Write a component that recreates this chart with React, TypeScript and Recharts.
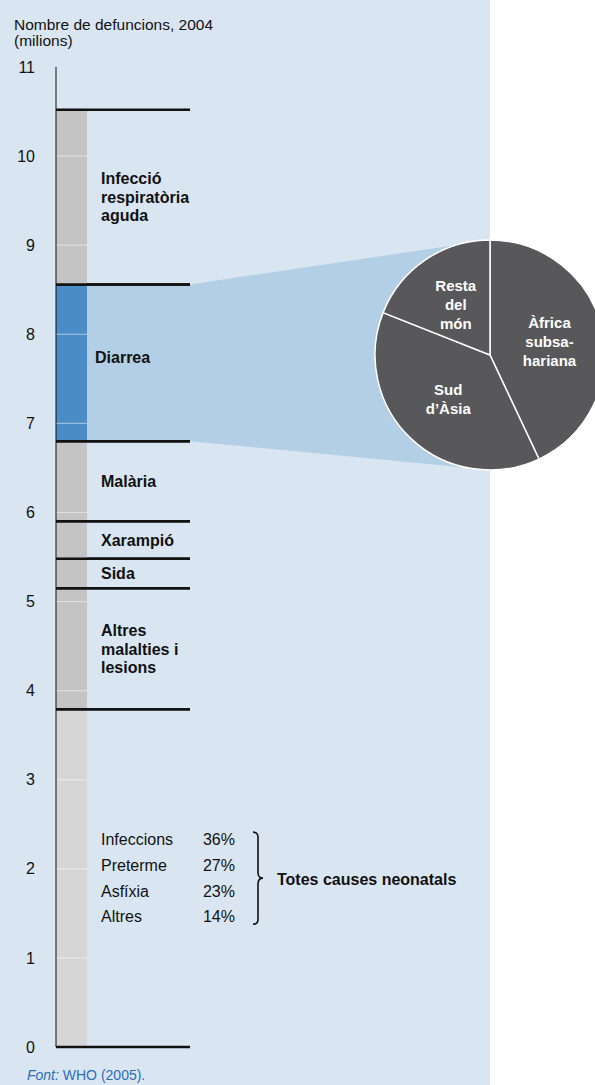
import React from 'react';
import { ComposedChart, Bar, XAxis, YAxis, ReferenceLine, PieChart, Pie, Cell } from 'recharts';

// Child deaths by cause, 2004 (millions), stacked from the bottom
const causes = [
  'Totes causes neonatals',
  'Altres malalties i lesions',
  'Sida',
  'Xarampió',
  'Malària',
  'Diarrea',
  'Infecció respiratòria aguda',
];
const causeLines = [
  [],
  ['Altres', 'malalties i', 'lesions'],
  ['Sida'],
  ['Xarampió'],
  ['Malària'],
  ['Diarrea'],
  ['Infecció', 'respiratòria', 'aguda'],
];
const deaths = [3.79, 1.36, 0.33, 0.42, 0.9, 1.76, 1.96];
const yTicks = [0, 1, 2, 3, 4, 5, 6, 7, 8, 9, 10, 11];
const gridTicks = [1, 2, 3, 4, 5, 6, 7, 8, 9, 10];

// Neonatal breakdown
const neonatalCauses = ['Infeccions', 'Preterme', 'Asfíxia', 'Altres'];
const neonatalShares = [36, 27, 23, 14];

// Diarrhoea deaths by region (%)
const regions = ['Àfrica subsahariana', 'Sud d’Àsia', 'Resta del món'];
const regionLines = [['Àfrica', 'subsa-', 'hariana'], ['Sud', 'd’Àsia'], ['Resta', 'del', 'món']];
const regionShares = [43, 38, 19];

const FONT = '"Liberation Sans", Arial, Helvetica, sans-serif';
const PANEL = '#d9e6f2';
const CONNECTOR = '#b3cfe6';
const BLUE = '#4a8cc5';
const GREY = '#c4c4c4';
const LIGHT = '#d6d6d6';
const PIE_FILL = '#58585a';
const HIGHLIGHT = 5; // Diarrea

const PIE_CX = 490;
const PIE_CY = 355;
const PIE_R = 115;
const LINE_LEN = 134;

const row: Record<string, string | number> = { name: 'Defuncions' };
deaths.forEach((d, i) => (row['s' + i] = d));
const barFills = causes.map((_, i) => (i === 0 ? LIGHT : i === HIGHLIGHT ? BLUE : GREY));

const pieData = regions.map((name, i) => ({ name, value: regionShares[i] }));

function renderSegment(p: any, i: number) {
  const { x, y, width, height, fill } = p;
  const cy = y + height / 2 + (i === HIGHLIGHT ? -6 : 0);
  const lx = x + (i === HIGHLIGHT ? 39 : 45);
  const lines = causeLines[i];
  return (
    <g>
      <rect x={x} y={y} width={width} height={height} fill={fill} />
      {i === HIGHLIGHT && (
        <polygon
          points={`${x + width},${y} ${x + LINE_LEN},${y} ${PIE_CX},${PIE_CY - PIE_R} ${PIE_CX},${PIE_CY + PIE_R} ${x + LINE_LEN},${y + height} ${x + width},${y + height}`}
          fill={CONNECTOR}
        />
      )}
      <line x1={x} x2={x + LINE_LEN} y1={y} y2={y} stroke="#111" strokeWidth={2.5} />
      <line x1={x} x2={x + LINE_LEN} y1={y + height} y2={y + height} stroke="#111" strokeWidth={2.5} />
      {lines.map((t, k) => (
        <text
          key={k}
          x={lx}
          y={cy + (k - (lines.length - 1) / 2) * 18.5}
          dy="0.36em"
          fontSize={16}
          fontWeight="bold"
          fill="#111"
        >
          {t}
        </text>
      ))}
      {i === 0 && (
        <g>
          {neonatalCauses.map((c, k) => {
            const ry = cy + (k - 1.5) * 25.7;
            return (
              <g key={c}>
                <text x={x + 45} y={ry} dy="0.36em" fontSize={16} fill="#111">{c}</text>
                <text x={x + 179} y={ry} dy="0.36em" fontSize={16} fill="#111" textAnchor="end">
                  {neonatalShares[k]}%
                </text>
              </g>
            );
          })}
          <path
            d={`M ${x + 197} ${cy - 46} Q ${x + 202} ${cy - 46} ${x + 202} ${cy - 41} L ${x + 202} ${cy - 6} Q ${x + 202} ${cy} ${x + 207} ${cy} Q ${x + 202} ${cy} ${x + 202} ${cy + 6} L ${x + 202} ${cy + 41} Q ${x + 202} ${cy + 46} ${x + 197} ${cy + 46}`}
            fill="none"
            stroke="#111"
            strokeWidth={1.6}
          />
          <text x={x + 221} y={cy + 1} dy="0.36em" fontSize={16} fontWeight="bold" fill="#111">
            {causes[0]}
          </text>
        </g>
      )}
    </g>
  );
}

function renderPieLabel(p: any) {
  const { cx, cy, midAngle, outerRadius, index } = p;
  const rad = Math.PI / 180;
  const r = outerRadius * 0.53;
  const px = cx + r * Math.cos(-midAngle * rad);
  const py = cy + r * Math.sin(-midAngle * rad);
  const lines = regionLines[index];
  return (
    <g>
      {lines.map((t, k) => (
        <text
          key={k}
          x={px}
          y={py + (k - (lines.length - 1) / 2) * 19}
          dy="0.36em"
          textAnchor="middle"
          fontSize={15}
          fontWeight="bold"
          fill="#fff"
        >
          {t}
        </text>
      ))}
    </g>
  );
}

export default function App() {
  return (
    <div
      style={{
        position: 'absolute',
        left: 0,
        top: 0,
        width: 595,
        height: 1085,
        background: '#fff',
        fontFamily: FONT,
        overflow: 'hidden',
      }}
    >
      <div style={{ position: 'absolute', left: 0, top: 0, width: 490, height: 1085, background: PANEL }} />
      <div style={{ position: 'absolute', left: 14, top: 17, fontSize: 15.5, lineHeight: '16px', color: '#111' }}>
        Nombre de defuncions, 2004
        <br />
        (milions)
      </div>
      <div style={{ position: 'absolute', left: 0, top: 0 }}>
        <ComposedChart
          width={595}
          height={1085}
          data={[row]}
          margin={{ top: 67, right: 508, bottom: 38, left: 0 }}
          barCategoryGap={0}
        >
          <XAxis dataKey="name" type="category" hide />
          <YAxis
            yAxisId="spacer"
            type="number"
            domain={[0, 11]}
            width={10.5}
            tick={false}
            axisLine={false}
            tickLine={false}
          />
          <YAxis
            yAxisId="main"
            type="number"
            domain={[0, 11]}
            ticks={yTicks}
            interval={0}
            width={45.5}
            tickLine={false}
            tickMargin={15}
            axisLine={{ stroke: '#111', strokeWidth: 1 }}
            tick={{ fontSize: 16, fill: '#111' }}
          />
          {causes.map((c, i) => (
            <Bar
              key={c}
              name={c}
              dataKey={'s' + i}
              stackId="a"
              yAxisId="main"
              fill={barFills[i]}
              isAnimationActive={false}
              shape={(p: any) => renderSegment(p, i)}
            />
          ))}
          {gridTicks.map((t) => (
            <ReferenceLine key={t} y={t} yAxisId="main" stroke="#fff" strokeOpacity={0.45} strokeWidth={1.2} />
          ))}
        </ComposedChart>
      </div>
      <div style={{ position: 'absolute', left: 0, top: 0 }}>
        <PieChart width={595} height={1085} margin={{ top: 0, right: 0, bottom: 0, left: 0 }}>
          <Pie
            data={pieData}
            dataKey="value"
            nameKey="name"
            cx={PIE_CX}
            cy={PIE_CY}
            outerRadius={PIE_R}
            startAngle={90}
            endAngle={-270}
            stroke="#fff"
            strokeWidth={1.5}
            label={renderPieLabel}
            labelLine={false}
            isAnimationActive={false}
          >
            {pieData.map((d) => (
              <Cell key={d.name} fill={PIE_FILL} />
            ))}
          </Pie>
        </PieChart>
      </div>
      <div style={{ position: 'absolute', left: 27, top: 1068, fontSize: 14, lineHeight: '15px', color: '#2d6db5' }}>
        <i>Font:</i> WHO (2005).
      </div>
    </div>
  );
}
